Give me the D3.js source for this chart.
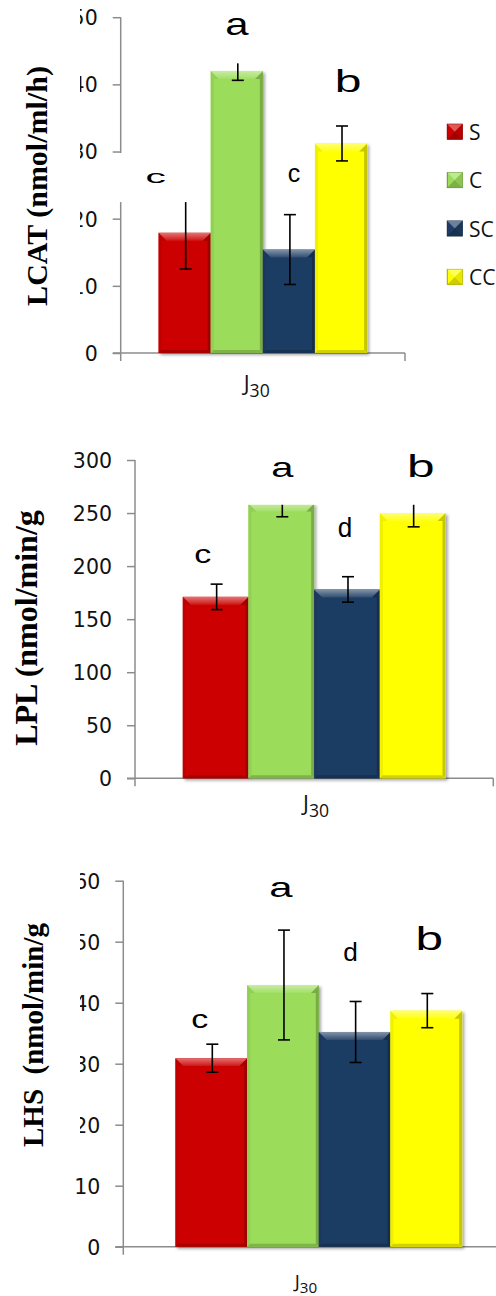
<!DOCTYPE html>
<html>
<head>
<meta charset="utf-8">
<script src="https://cdn.jsdelivr.net/npm/d3@7/dist/d3.min.js"></script>
<style>
  body { margin: 0; background: #fff; }
  svg { display: block; }
</style>
</head>
<body>
<svg id="chart" width="496" height="1296"></svg>
<script>
// ---- data ----
const groups = ['S', 'C', 'SC', 'CC'];
const category = 'J30';

const lcatValues = [17.9, 42.0, 15.4, 31.2];
const lcatErrors = [5.4, 1.4, 5.2, 2.6];
const lcatLetters = ['c', 'a', 'c', 'b'];
const lcatLetterLevels = [25.3, 47.3, 25.5, 38.9];
const lcatTicks = [0, 10, 20, 30, 40, 50];

const lplValues = [171, 259, 178, 250];
const lplErrors = [12, 12.5, 12, 13];
const lplLetters = ['c', 'a', 'd', 'b'];
const lplLetterLevels = [202.6, 284.2, 227.7, 284.2];
const lplTicks = [0, 50, 100, 150, 200, 250, 300];

const lhsValues = [30.9, 42.9, 35.2, 38.7];
const lhsErrors = [2.3, 9.0, 5.0, 2.8];
const lhsLetters = ['c', 'a', 'd', 'b'];
const lhsLetterLevels = [35.8, 57.4, 46.8, 48.6];
const lhsTicks = [0, 10, 20, 30, 40, 50, 60];

// ---- styles ----
const barColors = ['#cc0000', '#9bdc5a', '#1e3c64', '#ffff00'];
const axisColor = '#8c8c8c';
const mix = (c, t, k) => d3.interpolateRgb(c, t)(k);

const panels = [
  {
    values: lcatValues, errors: lcatErrors, letters: lcatLetters, levels: lcatLetterLevels, ticks: lcatTicks,
    title: 'LCAT (nmol/ml/h)',
    axisX: 120.7, xRight: 405, yBase: 353, yTop: 17.2,
    titleX: 47, titleY: 186, titleSize: 30, titleBox: [0, 80, 0, 340],
    labelX: 256.7, labelY: 391, labelSize: 22,
    letterDx: [-29, 0, 5, 7], letterSize: [18.5, 31, 25, 32], letterSx: [2.2, 1.35, 1.0, 1.5],
    boxes: {0: [-37, 40, -30, 19], 1: [-30, 30, -45, 28]},
    legend: true
  },
  {
    values: lplValues, errors: lplErrors, letters: lplLetters, levels: lplLetterLevels, ticks: lplTicks,
    title: 'LPL (nmol/min/g',
    axisX: 135, xRight: 493.3, yBase: 778.3, yTop: 460,
    titleX: 37, titleY: 628, titleSize: 32, titleBox: null,
    labelX: 316, labelY: 811, labelSize: 22,
    letterDx: [-13, 1, -2, 8], letterSize: [25, 28.5, 27.5, 32], letterSx: [1.36, 1.4, 0.95, 1.55],
    boxes: {1: [-40, 40, -45, 28], 3: [-35, 35, -45, 28]},
    legend: false
  },
  {
    values: lhsValues, errors: lhsErrors, letters: lhsLetters, levels: lhsLetterLevels, ticks: lhsTicks,
    title: 'LHS  (nmol/min/g',
    axisX: 123.3, xRight: 514.3, yBase: 1246.7, yTop: 880.7,
    titleX: 43, titleY: 1035, titleSize: 29, titleBox: [0, 80, 868, 1162],
    labelX: 306, labelY: 1288, labelSize: 19,
    letterDx: [-11.5, -2, -4, 3], letterSize: [25, 28.5, 25, 33], letterSx: [1.36, 1.47, 1.05, 1.5],
    boxes: {},
    legend: false
  }
];

const svg = d3.select('#chart');
const defs = svg.append('defs');

defs.append('filter')
  .attr('id', 'barShadow')
  .attr('x', '-20%').attr('y', '-5%').attr('width', '140%').attr('height', '110%')
  .append('feDropShadow')
  .attr('dx', 2).attr('dy', 2).attr('stdDeviation', 1.4)
  .attr('flood-color', '#000').attr('flood-opacity', 0.35);

barColors.forEach((c, i) => {
  const gr = defs.append('linearGradient').attr('id', 'topBevel' + i)
    .attr('x1', 0).attr('y1', 0).attr('x2', 0).attr('y2', 1);
  gr.append('stop').attr('offset', '0%').attr('stop-color', mix(c, '#fff', 0.45));
  gr.append('stop').attr('offset', '100%').attr('stop-color', mix(c, '#fff', 0.08));
});

const poly = (g, pts, fill) => g.append('polygon')
  .attr('points', pts.map((p) => p.join(',')).join(' '))
  .attr('fill', fill);

const drawBar = (g, x0, w, yTop, yBase, i) => {
  const c = barColors[i],
    b = Math.min(8, (yBase - yTop) / 2),
    s = 3,
    x1 = x0 + w;
  const $bar = g.append('g').attr('filter', 'url(#barShadow)');
  $bar.append('rect')
    .attr('x', x0).attr('y', yTop)
    .attr('width', w).attr('height', yBase - yTop)
    .attr('fill', c);
  poly($bar, [[x0, yTop], [x0 + b, yTop + b], [x0 + s, yTop + b], [x0 + s, yBase - s], [x0, yBase]], mix(c, '#000', 0.06));
  poly($bar, [[x1, yTop], [x1 - b, yTop + b], [x1 - s, yTop + b], [x1 - s, yBase - s], [x1, yBase]], mix(c, '#000', 0.22));
  poly($bar, [[x0, yBase], [x0 + s, yBase - s], [x1 - s, yBase - s], [x1, yBase]], mix(c, '#000', 0.18));
  poly($bar, [[x0, yTop], [x1, yTop], [x1 - b, yTop + b], [x0 + b, yTop + b]], 'url(#topBevel' + i + ')');
};

panels.forEach((p) => {
  const $g = svg.append('g');
  const yMax = p.ticks[p.ticks.length - 1];
  const y = d3.scaleLinear().domain([0, yMax]).range([p.yBase, p.yTop]);
  const x = d3.scaleBand().domain([category]).range([p.axisX, p.xRight]).paddingInner(0).paddingOuter(0.182);
  const xs = d3.scaleBand().domain(groups).range([x(category), x(category) + x.bandwidth()]).padding(0);

  // y axis
  const $yAxis = $g.append('g')
    .attr('transform', 'translate(' + p.axisX + ',0)')
    .call(d3.axisLeft(y).tickValues(p.ticks).tickSize(8).tickPadding(15).tickSizeOuter(0));
  $yAxis.select('.domain').remove();
  $yAxis.selectAll('.tick line').attr('stroke', axisColor).attr('stroke-width', 1.5);
  $yAxis.selectAll('.tick text')
    .attr('font-family', 'DejaVu Sans, sans-serif')
    .attr('font-size', 20.5)
    .attr('fill', '#111')
    .attr('dy', '0.36em');
  $g.append('line')
    .attr('x1', p.axisX).attr('x2', p.axisX)
    .attr('y1', y(yMax)).attr('y2', p.yBase + 8)
    .attr('stroke', axisColor).attr('stroke-width', 1.5);

  // x axis
  $g.append('line')
    .attr('x1', p.axisX - 8).attr('x2', x.range()[1])
    .attr('y1', p.yBase).attr('y2', p.yBase)
    .attr('stroke', axisColor).attr('stroke-width', 1.5);
  $g.append('line')
    .attr('x1', x.range()[1]).attr('x2', x.range()[1])
    .attr('y1', p.yBase).attr('y2', p.yBase + 8)
    .attr('stroke', axisColor).attr('stroke-width', 1.5);

  // bars
  groups.forEach((grp, i) => {
    drawBar($g, xs(grp), xs.bandwidth(), y(p.values[i]), y(0), i);
  });

  // error bars
  groups.forEach((grp, i) => {
    const cx = xs(grp) + xs.bandwidth() / 2 + 1,
      lo = y(p.values[i] - p.errors[i]),
      hi = y(p.values[i] + p.errors[i]);
    const $e = $g.append('g').attr('stroke', '#000').attr('stroke-width', 1.6);
    $e.append('line').attr('x1', cx).attr('x2', cx).attr('y1', lo).attr('y2', hi);
    $e.append('line').attr('x1', cx - 6).attr('x2', cx + 6).attr('y1', lo).attr('y2', lo);
    $e.append('line').attr('x1', cx - 6).attr('x2', cx + 6).attr('y1', hi).attr('y2', hi);
  });

  // significance letters (text boxes with white fill)
  groups.forEach((grp, i) => {
    const lx = xs(grp) + xs.bandwidth() / 2 + p.letterDx[i],
      ly = y(p.levels[i]),
      box = p.boxes[i];
    if (box) {
      $g.append('rect')
        .attr('x', lx + box[0]).attr('y', ly + box[2])
        .attr('width', box[1] - box[0]).attr('height', box[3] - box[2])
        .attr('fill', '#fff');
    }
    $g.append('text')
      .text(p.letters[i])
      .attr('text-anchor', 'middle')
      .attr('font-family', 'Liberation Sans, Arial, sans-serif')
      .attr('font-size', p.letterSize[i])
      .attr('fill', '#000')
      .attr('transform', 'translate(' + lx + ',' + ly + ') scale(' + p.letterSx[i] + ',1)');
  });

  // y title (text box with white fill)
  if (p.titleBox) {
    $g.append('rect')
      .attr('x', p.titleBox[0]).attr('y', p.titleBox[2])
      .attr('width', p.titleBox[1] - p.titleBox[0]).attr('height', p.titleBox[3] - p.titleBox[2])
      .attr('fill', '#fff');
  }
  $g.append('text')
    .text(p.title)
    .attr('text-anchor', 'middle')
    .attr('font-family', 'Liberation Serif, Times New Roman, serif')
    .attr('font-weight', 'bold')
    .attr('font-size', p.titleSize)
    .style('white-space', 'pre')
    .attr('transform', 'translate(' + p.titleX + ',' + p.titleY + ') rotate(-90)');

  // category label J30
  const $lab = $g.append('text')
    .attr('text-anchor', 'middle')
    .attr('font-family', 'Open Sans, sans-serif')
    .attr('font-size', p.labelSize)
    .attr('fill', '#111')
    .attr('x', p.labelX).attr('y', p.labelY);
  $lab.append('tspan').text(category.slice(0, 1));
  $lab.append('tspan').text(category.slice(1))
    .attr('font-size', p.labelSize * 0.8)
    .attr('dy', p.labelSize * 0.25);

  // legend
  if (p.legend) {
    const $leg = $g.append('g');
    groups.forEach((grp, i) => {
      const sx = 447.3, s = 15,
        cy = 131.7 + i * 48.4,
        sy = cy - s / 2,
        c = barColors[i];
      const $item = $leg.append('g');
      $item.append('rect').attr('x', sx).attr('y', sy).attr('width', s).attr('height', s)
        .attr('fill', c).attr('stroke', mix(c, '#000', 0.35)).attr('stroke-width', 1);
      poly($item, [[sx, sy], [sx + s, sy], [sx + s / 2, sy + s / 2]], mix(c, '#fff', 0.35));
      poly($item, [[sx, sy + s], [sx + s, sy + s], [sx + s / 2, sy + s / 2]], mix(c, '#000', 0.2));
      poly($item, [[sx + s, sy], [sx + s, sy + s], [sx + s / 2, sy + s / 2]], mix(c, '#000', 0.1));
      $item.append('text')
        .text(grp)
        .attr('x', 469).attr('y', cy + 8)
        .attr('font-family', 'Open Sans, sans-serif')
        .attr('font-size', 21)
        .attr('fill', '#111');
    });
  }
});
</script>
</body>
</html>
